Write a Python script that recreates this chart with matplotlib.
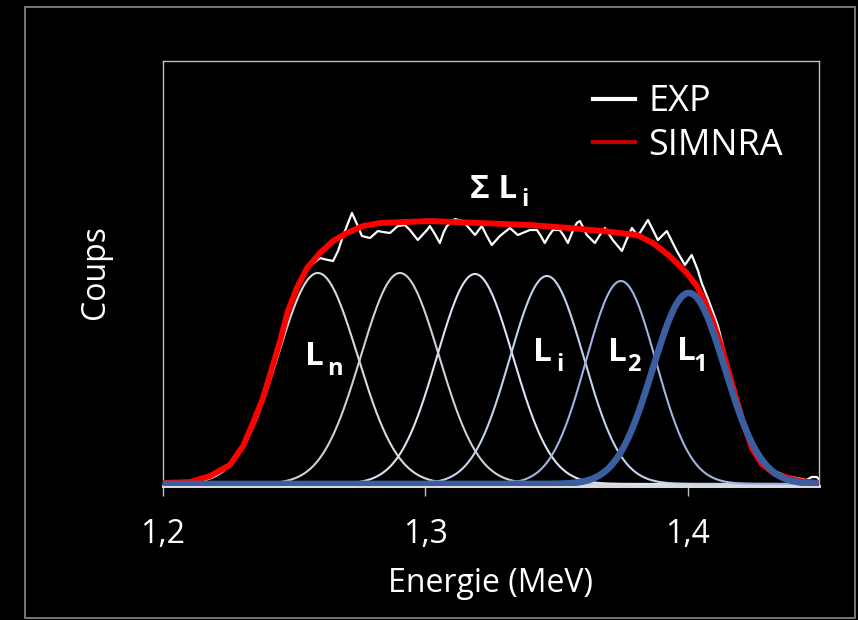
import numpy as np
import matplotlib
matplotlib.use("Agg")
import matplotlib.pyplot as plt
from matplotlib.lines import Line2D
from matplotlib.patches import Rectangle

# ---- data ----
# experimental spectrum (energy in MeV, counts)
exp_energy = [1.2000, 1.2103, 1.2179, 1.2255, 1.2305, 1.2343, 1.2381, 1.2415,
              1.2446, 1.2484, 1.2522, 1.2560, 1.2598, 1.2629, 1.2648, 1.2667,
              1.2686, 1.2720, 1.2739, 1.2758, 1.2789, 1.2819, 1.2838, 1.2865,
              1.2895, 1.2922, 1.2941, 1.2971, 1.3006, 1.3017, 1.3036, 1.3055,
              1.3070, 1.3082, 1.3112, 1.3143, 1.3166, 1.3189, 1.3215, 1.3234,
              1.3253, 1.3284, 1.3322, 1.3352, 1.3398, 1.3425, 1.3440, 1.3455,
              1.3470, 1.3486, 1.3512, 1.3528, 1.3543, 1.3560, 1.3577, 1.3589,
              1.3615, 1.3646, 1.3665, 1.3684, 1.3714, 1.3749, 1.3768, 1.3787,
              1.3810, 1.3848, 1.3867, 1.3886, 1.3920, 1.3958, 1.3989, 1.4015,
              1.4038, 1.4053, 1.4076, 1.4114, 1.4160, 1.4210, 1.4248, 1.4301,
              1.4377, 1.4453, 1.4472, 1.4491, 1.4503]
exp_counts = [10, 20, 90, 190, 390, 630, 880, 1110,
              1440, 1780, 2040, 2180, 2260, 2240, 2230, 2330,
              2480, 2710, 2600, 2480, 2460, 2530, 2520, 2510,
              2580, 2590, 2540, 2440, 2540, 2580, 2500, 2410,
              2520, 2580, 2650, 2630, 2560, 2490, 2580, 2480,
              2390, 2480, 2560, 2490, 2540, 2540, 2480, 2410,
              2480, 2540, 2540, 2480, 2410, 2520, 2610, 2630,
              2490, 2410, 2490, 2560, 2440, 2330, 2450, 2560,
              2480, 2640, 2540, 2440, 2530, 2330, 2190, 2290,
              2140, 2010, 1860, 1590, 1110, 590, 340, 160,
              80, 40, 70, 70, 40]

# SIMNRA simulation
sim_energy = [1.2000, 1.2103, 1.2179, 1.2255, 1.2305, 1.2343, 1.2381, 1.2419,
              1.2446, 1.2476, 1.2510, 1.2549, 1.2598, 1.2648, 1.2701, 1.2762,
              1.2827, 1.3017, 1.3208, 1.3398, 1.3550, 1.3676, 1.3806, 1.3867,
              1.3931, 1.3996, 1.4034, 1.4065, 1.4095, 1.4130, 1.4168, 1.4206,
              1.4244, 1.4282, 1.4331, 1.4427, 1.4503]
sim_counts = [10, 20, 80, 190, 380, 610, 860, 1190,
              1430, 1730, 1960, 2160, 2310, 2430, 2510, 2580,
              2610, 2630, 2610, 2590, 2560, 2530, 2490, 2410,
              2280, 2110, 1980, 1830, 1630, 1360, 1010, 660,
              360, 200, 100, 30, 10]

# layer contributions L_n ... L_1 (gaussian peaks)
layer_center = [1.2590, 1.2903, 1.3189, 1.3463, 1.3745, 1.4004]
layer_height = [2110, 2110, 2100, 2080, 2030, 1910]
layer_sigma = [0.0152, 0.0149, 0.0145, 0.0141, 0.0133, 0.0137]
layer_color = ["#D9D9D9", "#D0D0D0", "#DAE3F3", "#C3D3EE", "#9DB5E0", "#3A5EA0"]
layer_width = [1.5, 1.5, 1.5, 1.5, 1.5, 4.8]

xticks = [1.2, 1.3, 1.4]
xtick_labels = ["1,2", "1,3", "1,4"]

plt.rcParams["font.family"] = ["Open Sans", "DejaVu Sans"]

fig = plt.figure(figsize=(8.58, 6.20), dpi=100, facecolor="black")
ax = fig.add_axes([163 / 858, 134 / 620, 656 / 858, 425 / 620])
ax.set_facecolor("black")

xs = np.linspace(1.2, 1.45, 600)
for c, h, s, col, lw in zip(layer_center, layer_height, layer_sigma,
                            layer_color, layer_width):
    z = 5 if lw > 2 else 2
    ax.plot(xs, h * np.exp(-(xs - c) ** 2 / (2 * s ** 2)), color=col, lw=lw,
            zorder=z, solid_capstyle="round")

ax.plot(exp_energy, exp_counts, color="white", lw=1.6, zorder=3,
        solid_joinstyle="round")
ax.plot(sim_energy, sim_counts, color="#FF0000", lw=4.2, zorder=4,
        solid_joinstyle="round")

ax.set_xlim(1.2, 1.45)
ax.set_ylim(-20, 4230)
ax.set_xticks(xticks)
ax.set_xticklabels(xtick_labels)
ax.set_yticks([])
ax.tick_params(axis="x", direction="out", length=7, width=1, color="#BFBFBF",
               labelcolor="white", labelsize=23, pad=16)
for side in ["top", "left", "right"]:
    ax.spines[side].set_color("#BFBFBF")
    ax.spines[side].set_linewidth(1)
ax.spines["bottom"].set_color("#D9D9D9")
ax.spines["bottom"].set_linewidth(2.2)

ax.set_xlabel("Energie (MeV)", color="white", fontsize=23)
ax.set_ylabel("Coups", color="white", fontsize=23)
ax.xaxis.set_label_coords(0.5, -0.19)
ax.yaxis.set_label_coords(-0.077, 0.5035)

handles = [Line2D([], [], color="white", lw=3),
           Line2D([], [], color="#C00000", lw=3)]
ax.legend(handles, ["EXP", "SIMNRA"], loc="upper left",
          bbox_to_anchor=(0.6555, 0.9455), frameon=False, fontsize=26,
          handlelength=1.16, handletextpad=0.38, labelspacing=0.22,
          borderpad=0, borderaxespad=0, labelcolor="white")

# layer labels: (left energy, baseline counts) for main letter and subscript
def lab(x_main, y_main, main, x_sub, y_sub, sub):
    ax.text(x_main, y_main, main, color="white", fontsize=24, fontweight="bold",
            ha="left", va="baseline", zorder=6)
    ax.text(x_sub, y_sub, sub, color="white", fontsize=17, fontweight="bold",
            ha="left", va="baseline", zorder=6)

lab(1.3170, 2860, "Σ L", 1.3364, 2780, "i")
lab(1.2541, 1190, "L", 1.2625, 1090, "n")
lab(1.3410, 1230, "L", 1.3499, 1130, "i")
lab(1.3695, 1230, "L", 1.3768, 1130, "2")
lab(1.3958, 1240, "L", 1.4023, 1130, "1")

fig.add_artist(Rectangle((25 / 858, 2 / 620), 830 / 858, 611 / 620,
                         transform=fig.transFigure, fill=False,
                         edgecolor="#808080", lw=1.3))

fig.savefig("out.png", dpi=100, facecolor="black")
